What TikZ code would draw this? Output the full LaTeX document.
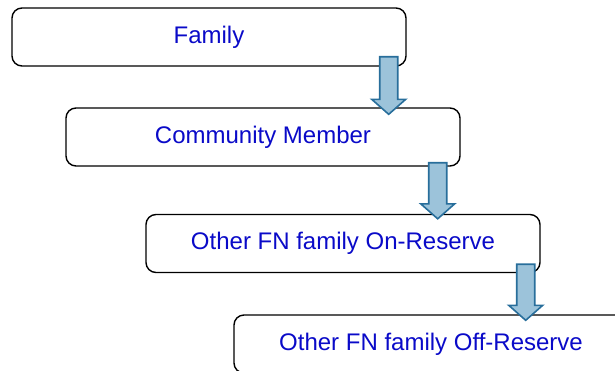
\documentclass[tikz,border=0pt]{standalone}
\usepackage{fontspec}
\setmainfont{Liberation Sans}
\usepackage{tikz}
\usetikzlibrary{calc}
\definecolor{textblue}{RGB}{10,10,200}
\definecolor{arrowfill}{RGB}{156,195,218}
\definecolor{arrowline}{RGB}{40,110,155}
\tikzset{
    level/.style={draw, rectangle, rounded corners=5pt, line width=0.7pt, minimum width=197pt, minimum height=29pt, align=center, text=textblue, font=\fontsize{12}{14}\selectfont},
    flow/.style={draw=arrowline, fill=arrowfill, line width=0.8pt, line join=miter}
}
% block arrow: #1 start point, #2 tip point (same x)
\newcommand*\blockarrow[2]{
    \draw[flow] let \p1=#1, \p2=#2 in
        (\x1-4.5pt,\y1) -- (\x1+4.5pt,\y1) -- (\x1+4.5pt,\y2+7.5pt) -- (\x1+8.5pt,\y2+7.5pt)
        -- (\x1,\y2) -- (\x1-8.5pt,\y2+7.5pt) -- (\x1-4.5pt,\y2+7.5pt) -- cycle;}

\begin{document}
\begin{tikzpicture}[x=0.5pt, y=-0.5pt]
    \useasboundingbox (0,0) rectangle (615,370);
    \clip (0,0) rectangle (615,370);

    % Define nodes
    \node (fam) [level] at (209,37) {Family};
    \node (comm) [level] at (263,137) {Community Member};
    \node (onres) [level] at (343,243.5) {Other FN family On-Reserve};
    \node (offres) [level] at (431,344) {Other FN family Off-Reserve};

    % Draw arrows
    \blockarrow{($(fam.south east)+(-18,-10)$)}{($(comm.north west)+(322,7)$)}
    \blockarrow{($(comm.south east)+(-23,-4)$)}{($(onres.north west)+(291,5)$)}
    \blockarrow{($(onres.south east)+(-15,-9)$)}{($(offres.north west)+(291,6)$)}

\end{tikzpicture}
\end{document}
